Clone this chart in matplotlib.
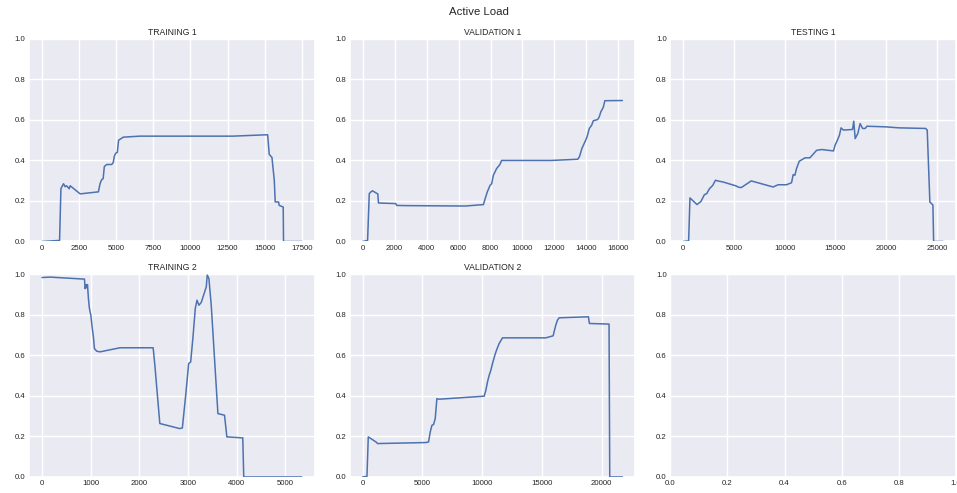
import matplotlib
matplotlib.use("Agg")
import matplotlib.pyplot as plt
import seaborn as sns

sns.set_theme(style="darkgrid")
plt.rcParams["font.family"] = ["Liberation Sans", "DejaVu Sans"]

# breakpoints of the active load curve for each run (sample index, normalised load)
train1_x = [0, 1185, 1275, 1340, 1450, 1565, 1650, 1720, 1830, 1900, 2570, 3800, 3910, 4020,
            4120, 4200, 4360, 4700, 4800, 4870, 4960, 5075, 5160, 5475, 6590, 12850, 15200,
            15310, 15490, 15650, 15710, 15935, 15980, 16250, 16270, 17500]
train1_y = [0.0, 0.005, 0.26, 0.27, 0.285, 0.27, 0.275, 0.27, 0.26, 0.275, 0.235, 0.245, 0.285,
            0.305, 0.31, 0.37, 0.38, 0.38, 0.39, 0.42, 0.435, 0.44, 0.50, 0.515, 0.52, 0.52,
            0.527, 0.43, 0.415, 0.30, 0.195, 0.195, 0.178, 0.17, 0.0, 0.0]

val1_x = [0, 310, 415, 520, 620, 830, 950, 990, 2070, 2130, 2690, 6420, 7555, 7660, 7800,
          7970, 8070, 8180, 8380, 8590, 8690, 11800, 13455, 13560, 13720, 13935, 14035, 14180,
          14325, 14430, 14700, 14800, 14900, 15050, 15150, 16250]
val1_y = [0.0, 0.005, 0.236, 0.245, 0.25, 0.24, 0.235, 0.19, 0.187, 0.178, 0.177, 0.175, 0.182,
          0.21, 0.245, 0.277, 0.285, 0.327, 0.36, 0.38, 0.40, 0.40, 0.406, 0.418, 0.46, 0.497,
          0.516, 0.558, 0.574, 0.596, 0.602, 0.615, 0.64, 0.662, 0.695, 0.696]

test1_x = [0, 530, 660, 1355, 1750, 2080, 2310, 2575, 2905, 3170, 3570, 3900, 5220, 5380,
           5715, 6700, 8850, 9350, 10170, 10670, 10830, 11000, 11160, 11430, 12000, 12480,
           13140, 13640, 14800, 14960, 15190, 15390, 15550, 15785, 16680, 16800, 16940, 17200,
           17430, 17670, 17930, 18100, 19920, 21240, 23880, 24040, 24300, 24600, 24670, 25600]
test1_y = [0.0, 0.003, 0.215, 0.182, 0.198, 0.231, 0.236, 0.26, 0.277, 0.302, 0.297, 0.294,
           0.274, 0.269, 0.266, 0.299, 0.269, 0.28, 0.28, 0.29, 0.33, 0.327, 0.36, 0.396, 0.413,
           0.413, 0.45, 0.454, 0.447, 0.475, 0.50, 0.525, 0.561, 0.55, 0.553, 0.594, 0.508,
           0.533, 0.582, 0.558, 0.558, 0.569, 0.566, 0.561, 0.558, 0.55, 0.195, 0.18, 0.0, 0.0]

train2_x = [0, 170, 873, 887, 907, 921, 935, 955, 975, 1003, 1030, 1057, 1078, 1125, 1194,
            1603, 2285, 2320, 2422, 2831, 2885, 2954, 3015, 3056, 3104, 3151, 3186, 3226, 3274,
            3377, 3397, 3431, 3479, 3616, 3752, 3800, 4127, 4147, 5340]
train2_y = [0.985, 0.987, 0.977, 0.93, 0.95, 0.934, 0.95, 0.88, 0.832, 0.80, 0.741, 0.692,
            0.634, 0.621, 0.618, 0.638, 0.638, 0.552, 0.264, 0.239, 0.242, 0.404, 0.56, 0.568,
            0.692, 0.832, 0.873, 0.848, 0.862, 0.939, 0.997, 0.98, 0.848, 0.313, 0.305, 0.198,
            0.193, 0.0, 0.0]

val2_x = [0, 362, 474, 1114, 1253, 5290, 5515, 5655, 5794, 5933, 6072, 6212, 6407, 10167,
          10306, 10446, 10585, 10724, 10863, 11058, 11198, 11420, 11700, 15320, 15933, 16156,
          16295, 16435, 18886, 18970, 20612, 20670, 21730]
val2_y = [0.0, 0.003, 0.198, 0.173, 0.165, 0.17, 0.173, 0.222, 0.255, 0.259, 0.288, 0.387,
          0.384, 0.399, 0.428, 0.47, 0.502, 0.527, 0.56, 0.601, 0.626, 0.659, 0.687, 0.687,
          0.697, 0.75, 0.774, 0.786, 0.791, 0.758, 0.755, 0.0, 0.0]

titles = ["TRAINING 1", "VALIDATION 1", "TESTING 1", "TRAINING 2", "VALIDATION 2"]
runs = [(train1_x, train1_y), (val1_x, val1_y), (test1_x, test1_y),
        (train2_x, train2_y), (val2_x, val2_y)]

fig, axes = plt.subplots(2, 3, figsize=(9.57, 4.93), dpi=100)
fig.subplots_adjust(left=0.0303, right=0.999, top=0.921, bottom=0.0325,
                    wspace=0.122, hspace=0.163)
fig.suptitle("Active Load", fontsize=8.2, y=0.985)

for ax in axes.flat:
    ax.set_ylim(0, 1)
    ax.tick_params(labelsize=5.6, length=0, pad=2.5)

for ax, title, (x, y) in zip(axes.flat, titles, runs):
    # above the white spines, so the clipped zero stretches still show faintly
    ax.plot(x, y, color="#4c72b0", lw=1.1, zorder=3)
    ax.set_ylim(0, 1)
    ax.set_title(title, fontsize=6.2, pad=3)

axes[1, 2].set_xlim(0, 1)

fig.savefig("out.png", dpi=100)
